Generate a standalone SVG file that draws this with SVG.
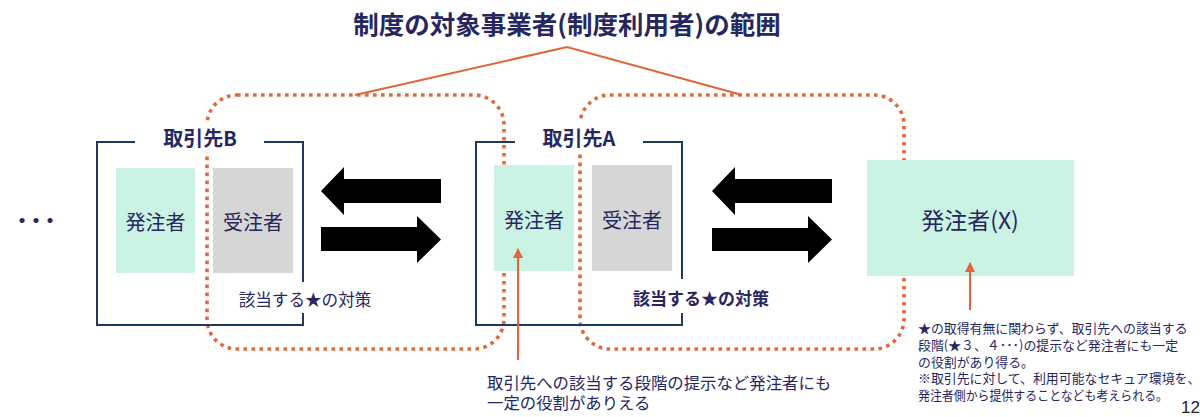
<svg xmlns="http://www.w3.org/2000/svg" width="1200" height="417" viewBox="0 0 1200 417">
<defs>
<style>
.t{font-family:"Noto Sans CJK JP","Noto Sans",sans-serif;fill:#27275f;}
.b{font-weight:bold;}
.mid{text-anchor:middle;dominant-baseline:central;}
.loop{fill:none;stroke:#e06a3a;stroke-width:3.6;stroke-dasharray:3.6 4.4;}
.frame{fill:none;stroke:#1f3a5f;stroke-width:2;}
.green{fill:#cbf3e4;}
.gray{fill:#d6d6d6;}
.bg{fill:#ffffff;}
.big{fill:#000000;}
.orange{fill:none;stroke:#e0653a;stroke-width:2;}
</style>
<marker id="ah" markerWidth="10" markerHeight="10" viewBox="0 0 10 10" refX="9" refY="5" orient="auto" markerUnits="userSpaceOnUse">
<path d="M0,0 L10,5 L0,10 Z" fill="#e0653a"/>
</marker>
</defs>
<rect x="0" y="0" width="1200" height="417" fill="#ffffff"/>

<g id="title">
<text class="t b mid" x="567" y="22" font-size="25.5">制度の対象事業者(制度利用者)の範囲</text>
</g>

<g id="scopes">
<rect class="loop" x="207" y="95" width="297" height="254" rx="30"/>
<rect class="loop" x="580" y="95" width="324" height="254" rx="30"/>
</g>

<g id="ellipsis">
<text class="t b" x="12" y="228" font-size="20" letter-spacing="-6">・・・</text>
</g>

<g id="partnerB">
<rect class="frame" x="97" y="142" width="206" height="183"/>
<rect class="bg" x="135" y="122" width="129" height="30"/>
<text class="t b mid" x="200" y="137" font-size="20">取引先B</text>
<rect class="green" x="116" y="168" width="79" height="105"/>
<text class="t mid" x="155.5" y="221" font-size="20">発注者</text>
<rect class="gray" x="213" y="168" width="80" height="105"/>
<text class="t mid" x="253" y="221" font-size="20">受注者</text>
<rect class="bg" x="234" y="282" width="142" height="31"/>
<text class="t mid" x="305" y="299" font-size="16.6">該当する★の対策</text>
</g>

<g id="partnerA">
<rect class="frame" x="476" y="142" width="206" height="183"/>
<rect class="bg" x="515" y="122" width="128" height="30"/>
<text class="t b mid" x="579" y="137" font-size="20">取引先A</text>
<rect class="green" x="494" y="165" width="80" height="106"/>
<text class="t mid" x="534" y="219" font-size="20">発注者</text>
<rect class="gray" x="592" y="165" width="80" height="106"/>
<text class="t mid" x="632" y="219" font-size="20">受注者</text>
<rect class="bg" x="628" y="279" width="146" height="34"/>
<text class="t b mid" x="701" y="297" font-size="17">該当する★の対策</text>
</g>

<g id="ordererX">
<rect class="green" x="867" y="160" width="207" height="116"/>
<text class="t mid" x="970" y="219" font-size="23">発注者(X)</text>
</g>

<g id="connectors">
<polyline class="orange" points="355,95 567,47 742,95" stroke-width="2.5"/>
<polygon class="big" points="321,191 344,167 344,179 441,179 441,203 344,203 344,215"/>
<polygon class="big" points="321,227 417,227 417,216 441,239.5 417,263 417,251 321,251"/>
<polygon class="big" points="712,191 735,167 735,179 832,179 832,203 735,203 735,215"/>
<polygon class="big" points="712,228 808,228 808,216 832,239.5 808,263 808,251 712,251"/>
<line class="orange" x1="518" y1="360" x2="518" y2="249" marker-end="url(#ah)"/>
<line class="orange" x1="970" y1="310" x2="970" y2="263" marker-end="url(#ah)"/>
</g>

<g id="noteA">
<text class="t" x="487" y="389" font-size="16.4">取引先への該当する段階の提示など発注者にも</text>
<text class="t" x="487" y="409" font-size="16.4">一定の役割がありえる</text>
</g>

<g id="noteX">
<text class="t" font-size="12.9"><tspan x="918" y="333">★の取得有無に関わらず、取引先への該当する</tspan><tspan x="918" y="350">段階(★３、４･･･)の提示など発注者にも一定</tspan><tspan x="918" y="367">の役割があり得る。</tspan><tspan x="918" y="383">※取引先に対して、利用可能なセキュア環境を、</tspan></text>
<text class="t" x="918" y="400" font-size="12.9" textLength="250" lengthAdjust="spacingAndGlyphs">発注者側から提供することなども考えられる。</text>
</g>

<g id="page">
<text x="1181" y="413" font-family="Liberation Sans, sans-serif" font-size="17" fill="#222222">12</text>
</g>
</svg>
